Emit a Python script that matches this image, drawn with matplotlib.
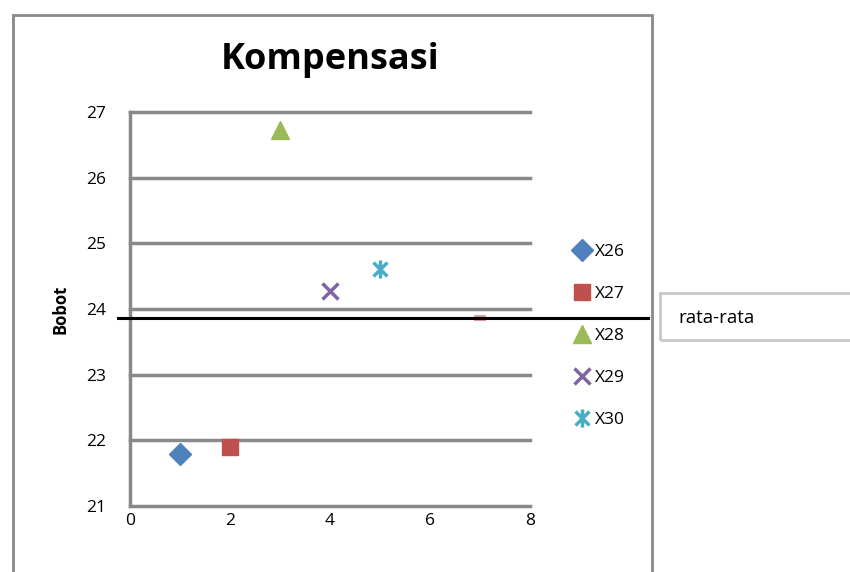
import matplotlib.pyplot as plt
from matplotlib.lines import Line2D
from matplotlib.patches import Rectangle
from matplotlib.path import Path
import matplotlib.transforms as mtransforms

plt.rcParams['font.family'] = ['Open Sans', 'DejaVu Sans']

labels = ['X26', 'X27', 'X28', 'X29', 'X30']
xs = [1, 2, 3, 4, 5]
ys = [21.79, 21.90, 26.73, 24.27, 24.61]
colors = ['#4F81BD', '#C0504D', '#9BBB59', '#8064A2', '#4BACC6']
mean_x = 7
mean_y = sum(ys) / len(ys)

star = Path([(-1, -1), (1, 1), (-1, 1), (1, -1), (0, -1.3), (0, 1.3)],
            [Path.MOVETO, Path.LINETO, Path.MOVETO, Path.LINETO, Path.MOVETO, Path.LINETO])
flat = Path([(-1, -0.5), (1, -0.5), (1, 0.5), (-1, 0.5), (-1, -0.5)],
            [Path.MOVETO, Path.LINETO, Path.LINETO, Path.LINETO, Path.CLOSEPOLY])
# marker, size, filled
styles = [('D', 11, True), ('s', 12, True), ('^', 13, True), ('x', 11, False), (star, 13, False)]

fig = plt.figure(figsize=(8.5, 5.72), dpi=100)
ax = fig.add_axes([130/850, 66/572, 400/850, 394/572])

# chart border
fig.patches.append(Rectangle((13/850, -0.1), 639/850, 1.1 - 15/572,
                             transform=fig.transFigure, fill=False,
                             edgecolor='#898989', linewidth=2))

handles = []
for x, y, c, (m, ms, filled) in zip(xs, ys, colors, styles):
    if filled:
        h, = ax.plot(x, y, linestyle='none', marker=m, markersize=ms,
                     color=c, markeredgecolor=c, zorder=3)
    else:
        h, = ax.plot(x, y, linestyle='none', marker=m, markersize=ms,
                     color=c, markeredgecolor=c, markeredgewidth=2.5, zorder=3)
    handles.append(h)

# average point, mostly hidden by the line
ax.plot(mean_x, mean_y, linestyle='none', marker=flat, markersize=9,
        color='#d99a9a', markeredgewidth=0, zorder=2, clip_on=False)

ax.set_xlim(0, 8)
ax.set_ylim(21, 27)
ax.set_xticks(range(0, 9, 2))
ax.set_yticks(range(21, 28))
ax.tick_params(length=0, labelsize=12.5)
ax.tick_params(axis='y', pad=17)
ax.tick_params(axis='x', pad=5)
ax.grid(axis='y', color='#898989', linewidth=2.5)
for gl in ax.get_ygridlines():
    gl.set_clip_on(False)
for s in ['top', 'right', 'bottom']:
    ax.spines[s].set_visible(False)
ax.spines['left'].set_color('#898989')
ax.spines['left'].set_linewidth(2.5)
ax.set_axisbelow(True)

ax.set_ylabel('Bobot', fontsize=12, fontweight='bold', labelpad=12)
fig.text(330/850, 1 - 60/572, 'Kompensasi', fontsize=26, fontweight='bold',
         ha='center', va='center')

fig.legend(handles, labels, loc='upper left', bbox_to_anchor=(565/850, 1 - 235/572),
           frameon=False, fontsize=12.5, labelspacing=1.49, handlelength=1.0,
           handletextpad=0.25, borderpad=0, markerscale=1.0)

# average line across the chart
trans = mtransforms.blended_transform_factory(fig.transFigure, ax.transData)
ax.add_line(Line2D([118/850, 648/850], [mean_y, mean_y], transform=trans,
                   color='black', linewidth=2.2, clip_on=False, zorder=4))

fig.patches.append(Rectangle((660/850, 1 - 340/572), 200/850, 47/572,
                             transform=fig.transFigure, fill=False,
                             edgecolor='#c8c8c8', linewidth=2))
fig.text(678/850, 1 - 318/572, 'rata-rata', fontsize=13.5, ha='left', va='center')

fig.savefig('out.png', dpi=100)
